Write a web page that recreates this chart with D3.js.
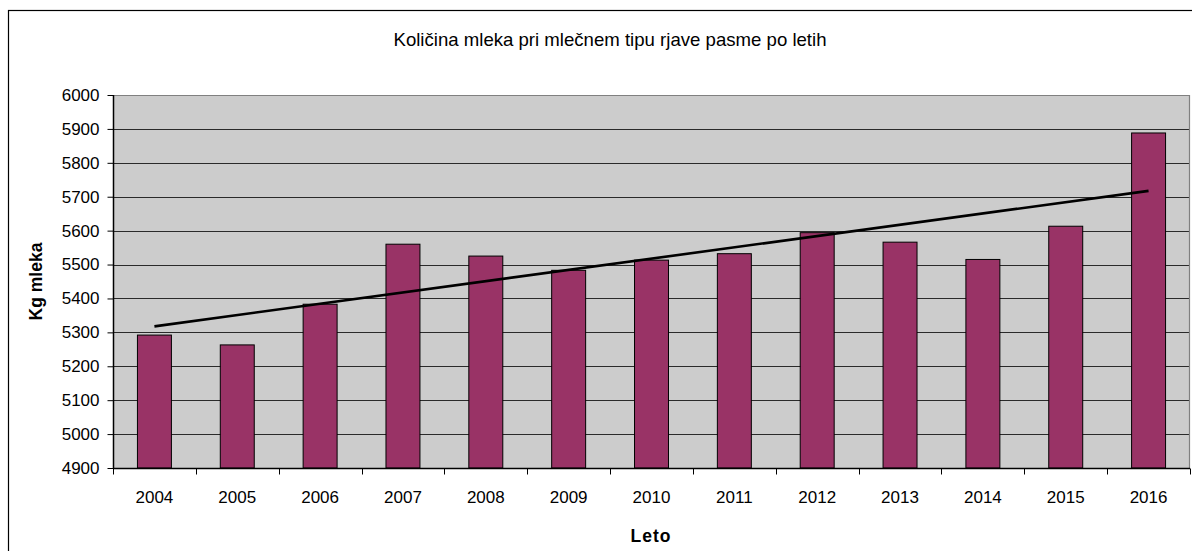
<!DOCTYPE html>
<html>
<head>
<meta charset="utf-8">
<script src="https://cdn.jsdelivr.net/npm/d3@7"></script>
<style>
  html, body { margin: 0; padding: 0; background: #fff; }
  svg { display: block; font-family: "Liberation Sans", Arial, sans-serif; }
</style>
</head>
<body>
<svg id="chart" width="1192" height="551"></svg>
<script>
const categories = ["2004","2005","2006","2007","2008","2009","2010","2011","2012","2013","2014","2015","2016"];
const values = [5292, 5263, 5383, 5560, 5525, 5483, 5513, 5532, 5594, 5566, 5515, 5613, 5888];
const yTicks = [4900, 5000, 5100, 5200, 5300, 5400, 5500, 5600, 5700, 5800, 5900, 6000];
const titleText = "Količina mleka pri mlečnem tipu rjave pasme po letih";
const yLabel = "Kg mleka";
const xLabel = "Leto";

const svg = d3.select("#chart");
const W = 1192, H = 551;
const plot = { left: 113, top: 95, right: 1190, bottom: 468 };

// outer chart border (extends beyond right/bottom edges)
svg.append("rect").attr("x", 8.5).attr("y", 10.5).attr("width", W + 20).attr("height", H + 20)
  .attr("fill", "#fff").attr("stroke", "#000").attr("stroke-width", 1.2);

const x = d3.scaleBand().domain(categories).range([plot.left, plot.right])
  .paddingInner(0.59).paddingOuter(0.295);
const y = d3.scaleLinear().domain([4900, 6000]).range([plot.bottom, plot.top]);

// plot background
svg.append("rect").attr("x", plot.left).attr("y", plot.top)
  .attr("width", plot.right - plot.left).attr("height", plot.bottom - plot.top)
  .attr("fill", "#cccccc");

// gridlines
svg.append("g").selectAll("line").data(yTicks.filter(t => t > 4900 && t < 6000)).join("line")
  .attr("x1", plot.left).attr("x2", plot.right)
  .attr("y1", d => Math.round(y(d)) + 0.5).attr("y2", d => Math.round(y(d)) + 0.5)
  .attr("stroke", "#2a2a2a").attr("stroke-width", 1);

// plot border top & right (gray)
svg.append("path")
  .attr("d", `M${plot.left},${plot.top + 0.5}H${plot.right - 0.5}V${plot.bottom}`)
  .attr("fill", "none").attr("stroke", "#808080").attr("stroke-width", 1.2);

// bars
svg.append("g").selectAll("rect").data(categories).join("rect")
  .attr("x", (d) => x(d))
  .attr("y", (d, i) => y(values[i]))
  .attr("width", x.bandwidth())
  .attr("height", (d, i) => y(4900) - y(values[i]))
  .attr("fill", "#993366").attr("stroke", "#000").attr("stroke-width", 1);

// linear trendline (least squares on bar values)
const n = values.length;
const mx = (n - 1) / 2;
const my = d3.mean(values);
let num = 0, den = 0;
values.forEach((v, i) => { num += (i - mx) * (v - my); den += (i - mx) * (i - mx); });
const slope = num / den, icpt = my - slope * mx;
const trend = [0, n - 1].map(i => [x(categories[i]) + x.bandwidth() / 2, y(icpt + slope * i)]);
svg.append("path").attr("d", d3.line()(trend))
  .attr("stroke", "#000").attr("stroke-width", 2.6).attr("fill", "none");

// Y axis
const yAxis = d3.axisLeft(y).tickValues(yTicks).tickSize(6).tickPadding(8).tickFormat(d3.format("d"));
const ya = svg.append("g").attr("transform", `translate(${plot.left + 0.5},0)`).call(yAxis);
ya.select(".domain").attr("stroke", "#000").attr("stroke-width", 1.5).attr("d", `M0,${plot.top}V${plot.bottom}`);
ya.selectAll(".tick line").attr("stroke", "#000");
ya.selectAll(".tick text").attr("font-size", 17).attr("fill", "#000")
  .attr("font-family", "Liberation Sans, Arial, sans-serif");

// X axis with ticks at band boundaries
const xa = svg.append("g").attr("transform", `translate(0,${plot.bottom + 0.5})`);
xa.append("line").attr("x1", plot.left).attr("x2", plot.right).attr("stroke", "#000").attr("stroke-width", 1.5);
const step = x.step();
const bounds = d3.range(n + 1).map(i => plot.left + i * step);
xa.selectAll("line.tk").data(bounds).join("line").attr("class", "tk")
  .attr("x1", d => Math.round(d) + 0.5).attr("x2", d => Math.round(d) + 0.5)
  .attr("y1", 0).attr("y2", 6).attr("stroke", "#000");
xa.selectAll("text").data(categories).join("text")
  .attr("x", d => x(d) + x.bandwidth() / 2).attr("y", 34)
  .attr("text-anchor", "middle").attr("font-size", 17).attr("fill", "#000").text(d => d);

// title
svg.append("text").attr("x", 610).attr("y", 46).attr("text-anchor", "middle")
  .attr("font-size", 18.6).attr("fill", "#000").text(titleText);

// axis titles
svg.append("text").attr("transform", `translate(42,${(plot.top + plot.bottom) / 2}) rotate(-90)`)
  .attr("text-anchor", "middle").attr("font-size", 17.5).attr("font-weight", "bold").text(yLabel);
svg.append("text").attr("x", 651).attr("y", 542).attr("text-anchor", "middle")
  .attr("font-size", 17.5).attr("font-weight", "bold").attr("letter-spacing", 1).text(xLabel);
</script>
</body>
</html>
